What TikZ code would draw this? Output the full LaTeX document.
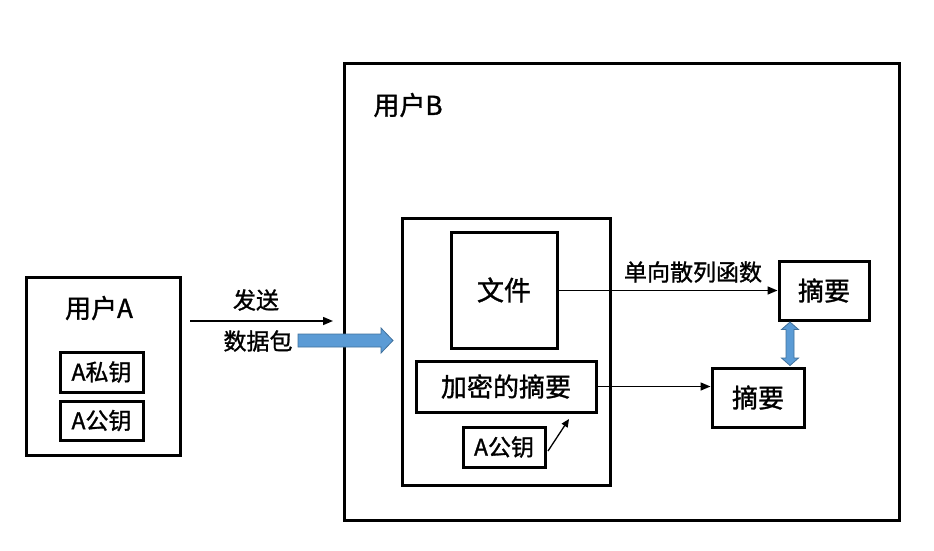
\documentclass[tikz,border=0pt]{standalone}
\usepackage{fontspec}
\setmainfont{Liberation Sans}
\newfontfamily\cjk[FakeBold=1.2]{Noto Sans CJK SC}
\usetikzlibrary{arrows.meta}
\definecolor{blockblue}{HTML}{5B9BD5}
\definecolor{blockedge}{HTML}{41719C}
\tikzset{
  box/.style={draw=black,line width=3pt,fill=white},
  lbl/.style={font=\cjk\fontsize{26}{30}\selectfont,inner sep=0pt},
  small/.style={font=\cjk\fontsize{23}{27}\selectfont,inner sep=0pt},
  conn/.style={draw=black,line width=1.5pt,-{Triangle[length=10pt,width=8pt]}},
  blockarr/.style={draw=blockedge,fill=blockblue,line width=0.8pt,line join=miter},
}
\begin{document}
\begin{tikzpicture}[x=1pt,y=-1pt]
\useasboundingbox (0,0) rectangle (934,550);
% User A
\node[box,minimum width=154pt,minimum height=178pt] (ua) at (103,366) {};
\node[lbl] (uat) at (99,308) {用户A};
\node[box,minimum width=83pt,minimum height=40pt,small] (apriv) at (101.5,372) {A私钥};
\node[box,minimum width=83pt,minimum height=39pt,small] (apub1) at (101.5,420.5) {A公钥};
% send arrow
\coordinate (s1) at (190,321);
\coordinate (s2) at (333,321);
\draw[conn] (s1) -- (s2);
\node[small] (send) at (256,300) {发送};
\node[small] (pkt) at (258,341) {数据包};
% User B
\node[box,minimum width=555pt,minimum height=457pt] (ub) at (621.5,291.5) {};
\node[lbl] (ubt) at (408,105) {用户B};
% blue block arrow
\draw[blockarr] (298,334) -- (381,334) -- (381,328) -- (393,340.5) -- (381,353) -- (381,347) -- (298,347) -- cycle;
% inner box
\node[box,minimum width=208pt,minimum height=267pt] (inner) at (506,351.5) {};
\node[box,minimum width=106pt,minimum height=116pt,lbl,font=\cjk\fontsize{27}{31}\selectfont] (file) at (504,290) {文件};
\node[box,minimum width=180pt,minimum height=51pt,lbl] (enc) at (506,386.5) {加密的摘要};
\node[box,minimum width=82pt,minimum height=40pt,small] (apub2) at (504,447) {A公钥};
\coordinate (k1) at (548,451);
\coordinate (k2) at (569,419);
\draw[conn,line width=1.3pt,-{Triangle[length=8pt,width=7pt]}] (k1) -- (k2);
% digests
\node[box,minimum width=90pt,minimum height=59pt,lbl] (d1) at (824,290.5) {摘要};
\node[box,minimum width=92pt,minimum height=59pt,lbl] (d2) at (758,397.5) {摘要};
\draw[conn] (file.east |- d1.west) -- (d1.west);
\node[small] (hash) at (693,272) {单向散列函数};
\draw[conn] (enc.east) -- (enc.east -| d2.west);
% double blue arrow
\draw[blockarr] (790,322) -- (798.5,329.5) -- (794,329.5) -- (794,358) -- (798.5,358) -- (790,365.5) -- (781.5,358) -- (786,358) -- (786,329.5) -- (781.5,329.5) -- cycle;
\end{tikzpicture}
\end{document}
